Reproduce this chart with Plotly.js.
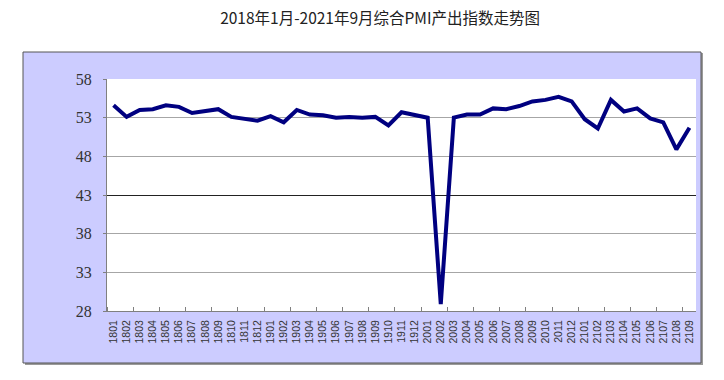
<!DOCTYPE html>
<html>
<head>
<meta charset="utf-8">
<script src="https://cdn.plot.ly/plotly-3.0.1.min.js"></script>
<style>html,body{margin:0;padding:0;background:#fff;}#chart{width:724px;height:380px;}</style>
</head>
<body>
<div id="chart"></div>
<script>
const months = ["1801","1802","1803","1804","1805","1806","1807","1808","1809","1810","1811","1812",
  "1901","1902","1903","1904","1905","1906","1907","1908","1909","1910","1911","1912",
  "2001","2002","2003","2004","2005","2006","2007","2008","2009","2010","2011","2012",
  "2101","2102","2103","2104","2105","2106","2107","2108","2109"];
const pmi = [54.6,53.1,54.0,54.1,54.6,54.4,53.6,53.8,54.1,53.1,52.8,52.6,
  53.2,52.4,54.0,53.4,53.3,53.0,53.1,53.0,53.1,52.0,53.7,53.4,
  53.0,28.9,53.0,53.4,53.4,54.2,54.1,54.5,55.1,55.3,55.7,55.1,
  52.8,51.6,55.3,53.8,54.2,52.9,52.4,48.9,51.7];
const yTicks = [28,33,38,43,48,53,58];
const greyGrid = [33,38,48,53];
const darkGrid = [43];
const titleText = "2018年1月-2021年9月综合PMI产出指数走势图";

const idx = months.map((m,i)=>i);

const trace = {
  x: idx, y: pmi, type: 'scatter', mode: 'lines',
  line: {color: '#000080', width: 4},
  hoverinfo: 'skip', showlegend: false
};

const L = 107, R = 696, T = 79, B = 311;
const W = R - L, H = B - T;
const px = v => (v - L) / W;
const py = v => (B - v) / H;

const layout = {
  width: 724, height: 380,
  margin: {l: L, r: 724 - R, t: T, b: 380 - B, pad: 0},
  paper_bgcolor: '#ffffff',
  plot_bgcolor: 'rgba(0,0,0,0)',
  title: {text: titleText, x: 0.525, xanchor: 'center', y: 0.952, yanchor: 'middle',
    font: {family: 'Noto Sans CJK SC, sans-serif', size: 15.5, color: '#222'}},
  xaxis: {
    range: [-0.5, months.length - 0.5], tickmode: 'array', tickvals: idx, ticktext: months,
    tickangle: -90, ticks: '', showgrid: false, zeroline: false,
    showline: true, linecolor: '#808080', linewidth: 1,
    tickfont: {family: 'Liberation Sans, sans-serif', size: 10.5, color: '#333'},
    ticklabelstandoff: 4,
    minor: {tickmode: 'linear', tick0: -0.5, dtick: 2, ticks: 'inside', ticklen: 4, tickcolor: '#808080', showgrid: false}
  },
  yaxis: {
    range: [28, 58], tickmode: 'array', tickvals: yTicks, showgrid: false, zeroline: false,
    showline: true, linecolor: '#808080', linewidth: 1, ticks: 'outside', ticklen: 3, tickcolor: '#808080',
    tickfont: {family: 'Liberation Serif, serif', size: 16, color: '#333'},
    ticklabelstandoff: 8
  },
  yaxis2: {
    overlaying: 'y', range: [28, 58], tickmode: 'array', tickvals: greyGrid, showgrid: true,
    gridcolor: '#a6a6a6', gridwidth: 1.5, showticklabels: false, ticks: '', zeroline: false, showline: false
  },
  yaxis3: {
    overlaying: 'y', range: [28, 58], tickmode: 'array', tickvals: darkGrid, showgrid: true,
    gridcolor: '#222', gridwidth: 1, showticklabels: false, ticks: '', zeroline: false, showline: false
  },
  shapes: [
    {type: 'rect', xref: 'paper', yref: 'paper', layer: 'below',
     x0: px(25), x1: px(703), y0: py(365), y1: py(53), fillcolor: '#9a9a9a', line: {width: 0}},
    {type: 'rect', xref: 'paper', yref: 'paper', layer: 'below',
     x0: px(23), x1: px(701), y0: py(363), y1: py(52), fillcolor: '#ccccff', line: {color: '#555', width: 1}},
    {type: 'rect', xref: 'paper', yref: 'paper', layer: 'below',
     x0: 0, x1: 1, y0: 0, y1: 1, fillcolor: '#ffffff', line: {width: 0}}
  ]
};

const ghost2 = {x: [0], y: [40], yaxis: 'y2', mode: 'markers', marker: {opacity: 0}, showlegend: false, hoverinfo: 'skip'};
const ghost3 = {x: [0], y: [40], yaxis: 'y3', mode: 'markers', marker: {opacity: 0}, showlegend: false, hoverinfo: 'skip'};

Plotly.newPlot('chart', [ghost2, ghost3, trace], layout, {displayModeBar: false, staticPlot: true});
</script>
</body>
</html>
